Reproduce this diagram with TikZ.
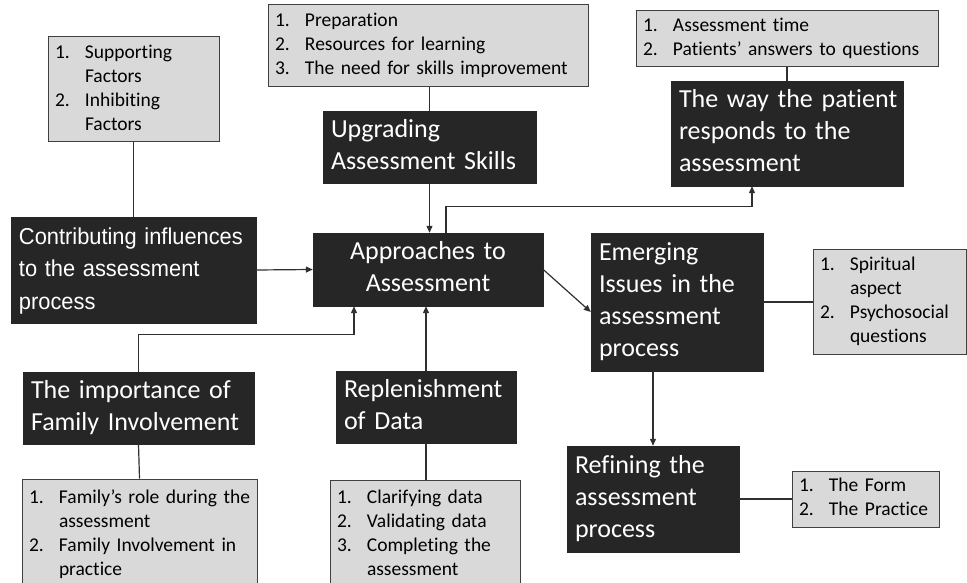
\documentclass[tikz,border=0pt]{standalone}
\usepackage{fontspec}
\setmainfont{Carlito}[Ligatures=NoCommon]
\newfontfamily\arialfont[FakeStretch=0.95]{Liberation Sans}
\usetikzlibrary{arrows.meta}

\definecolor{boxdark}{HTML}{262626}
\definecolor{boxgray}{HTML}{D9D9D9}
\definecolor{boxedge}{HTML}{404040}
\definecolor{wirecol}{HTML}{303030}

% numbered list items inside the grey boxes
\newcommand{\itm}[1]{\makebox[30pt][l]{#1}}
\newcommand{\cnt}{\hspace*{30pt}}
% a block of fixed lines that never re-wraps
\newcommand{\blk}[1]{\begin{tabular}{@{}l@{}}#1\end{tabular}}
\newcommand{\cblk}[1]{\begin{tabular}{@{}c@{}}#1\end{tabular}}

\tikzset{
  darkbox/.style={fill=boxdark, draw=boxdark, text=white, align=left,
    inner xsep=8pt, inner ysep=0pt, font=\fontsize{26}{32}\selectfont},
  graybox/.style={fill=boxgray, draw=boxedge, line width=1pt, text=black,
    align=left, inner xsep=7pt, inner ysep=0pt,
    font=\fontsize{19.5}{24}\selectfont},
  link/.style={draw=wirecol, line width=1.2pt},
  arr/.style={link, -{Triangle[length=7pt,width=6pt]}},
}

\begin{document}
\begin{tikzpicture}[x=1pt,y=-1pt]
\useasboundingbox (0,0) rectangle (967,583);

% ---- central theme
\node[darkbox, align=center, minimum width=230pt, minimum height=73pt, text width=214pt]
  (appr) at (428,269.5) {\cblk{Approaches to\\Assessment}};

% ---- left column
\node[graybox, minimum width=171pt, minimum height=105pt, text width=157pt]
  (sup) at (133.5,89.5)
  {\blk{\itm{1.}Supporting\\\cnt Factors\\\itm{2.}Inhibiting\\\cnt Factors}};
\node[darkbox, minimum width=245pt, minimum height=106pt, text width=229pt,
      font=\arialfont\fontsize{23}{32.5}\selectfont]
  (contrib) at (133.5,270)
  {\blk{Contributing influences\\to the assessment\\process}};
\node[darkbox, minimum width=231pt, minimum height=72pt, text width=215pt]
  (imp) at (138.5,408) {\blk{The importance of\\Family Involvement}};
\node[graybox, minimum width=235pt, minimum height=111pt, text width=221pt]
  (fam) at (139.5,534.5)
  {\blk{\itm{1.}Family’s role during the\\\cnt assessment\\\itm{2.}Family Involvement in\\\cnt practice}};

% ---- middle column
\node[graybox, minimum width=320pt, minimum height=82pt, text width=306pt]
  (prep) at (428,46)
  {\blk{\itm{1.}Preparation\\\itm{2.}Resources for learning\\\itm{3.}The need for skills improvement}};
\node[darkbox, minimum width=213pt, minimum height=72pt, text width=197pt]
  (upg) at (429.5,147) {\blk{Upgrading\\Assessment Skills}};
\node[darkbox, minimum width=180pt, minimum height=72pt, text width=164pt]
  (repl) at (426,407) {\blk{Replenishment\\of Data}};
\node[graybox, minimum width=190pt, minimum height=110pt, text width=176pt]
  (data) at (425,535)
  {\blk{\itm{1.}Clarifying data\\\itm{2.}Validating data\\\itm{3.}Completing the\\\cnt assessment}};

% ---- right column
\node[graybox, minimum width=302pt, minimum height=56pt, text width=288pt]
  (atime) at (787,39)
  {\blk{\itm{1.}Assessment time\\\itm{2.}Patients’ answers to questions}};
\node[darkbox, minimum width=232pt, minimum height=105pt, text width=216pt]
  (way) at (787,133.5) {\blk{The way the patient\\responds to the\\assessment}};
\node[darkbox, minimum width=172pt, minimum height=138pt, text width=156pt]
  (emerg) at (677,302) {\blk{Emerging\\Issues in the\\assessment\\process}};
\node[graybox, minimum width=153pt, minimum height=105pt, text width=139pt]
  (spir) at (889.5,301.5)
  {\blk{\itm{1.}Spiritual\\\cnt aspect\\\itm{2.}Psychosocial\\\cnt questions}};
\node[darkbox, minimum width=172pt, minimum height=106pt, text width=156pt]
  (refin) at (653,499) {\blk{Refining the\\assessment\\process}};
\node[graybox, minimum width=147pt, minimum height=56pt, text width=133pt]
  (form) at (865.5,499)
  {\blk{\itm{1.}The Form\\\itm{2.}The Practice}};

% ---- plain links between themes and their sub-themes
\draw[link] (sup.south) -- (contrib.north);
\draw[link] (upg.north |- prep.south) -- (upg.north);
\draw[link] (way.north |- atime.south) -- (way.north);
\draw[link] (emerg.east) -- (emerg.east -| spir.west);
\draw[link] (refin.east) -- (form.west);
\draw[link] (imp.south) -- (fam.north);
\draw[link] (repl.south) -- (repl.south |- data.north);

% ---- arrows into and out of the central theme
\draw[arr] (contrib.east) -- (appr.west);
\draw[arr] (upg.south) -- (upg.south |- appr.north);
\draw[arr] ([xshift=18pt]appr.north) -- ++(0,-26) -| ([xshift=-35pt]way.south);
\draw[arr] (appr.east) -- ([yshift=-10pt]emerg.west);
\draw[arr] (refin.north |- emerg.south) -- (refin.north);
\draw[arr] (imp.north) -- ++(0,-37) -| ([xshift=-74pt]appr.south);
\draw[arr] (repl.north) -- (repl.north |- appr.south);
\end{tikzpicture}
\end{document}
